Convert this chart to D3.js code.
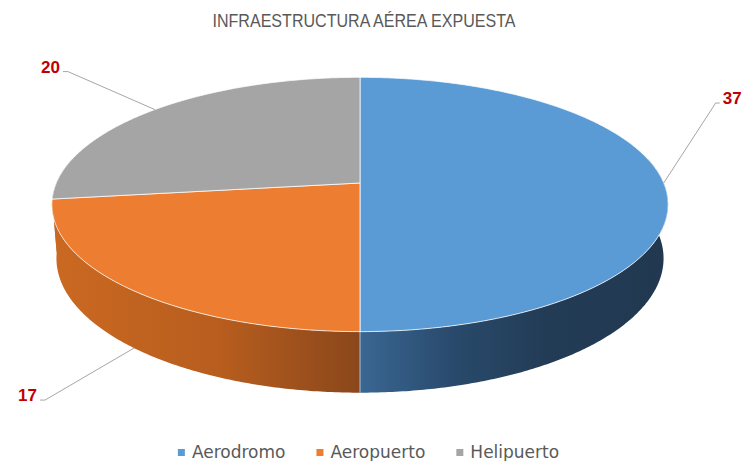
<!DOCTYPE html>
<html>
<head>
<meta charset="utf-8">
<script src="https://cdn.jsdelivr.net/npm/d3@7"></script>
<style>
  body { margin: 0; background: #fff; }
</style>
</head>
<body>
<svg id="chart"></svg>
<script>
// Data
const title = 'INFRAESTRUCTURA AÉREA EXPUESTA';
const categories = ['Aerodromo', 'Aeropuerto', 'Helipuerto'];
const values = [37, 17, 20];

// Styles / layout
const topColors = ['#5B9BD5', '#ED7D31', '#A5A5A5'];
const sideStops = [
    [['0', '#3A6793'], ['0.3', '#294A6C'], ['0.6', '#233C56'], ['1', '#213850']],
    [['0', '#CB6922'], ['0.55', '#B75D1E'], ['1', '#8A471B']],
    [['0', '#8E8E8E'], ['1', '#7A7A7A']]
];
// offset of the label elbow from the point where the leader touches the slice
const labelOffsets = [[52, -80], [-89, 52], [-87, -38]];

const width = 743;
const height = 461;

// Perspective camera for the 3D pie
const cx = 360, cy = 183;
const tilt = 24 * Math.PI / 180;
const sinT = Math.sin(tilt), cosT = Math.cos(tilt);
const dist = 5.41;
const k = 1643;
const depth = 0.194;

function proj(a, h) {
    const u = Math.sin(a), v = Math.cos(a);
    const den = v * cosT + dist - h * sinT;
    return [cx + k * u / den, cy - k * (v * sinT + h * cosT) / den];
}

function arcPoints(a0, a1, h) {
    const n = Math.max(2, Math.ceil(Math.abs(a1 - a0) / 0.01));
    return d3.range(n + 1).map(i => proj(a0 + (a1 - a0) * i / n, h));
}

const svg = d3.select('#chart')
    .attr('width', width)
    .attr('height', height);

const defs = svg.append('defs');

const pie = d3.pie().sort(null).value(d => d)
    .startAngle(0).endAngle(2 * Math.PI);
const slices = pie(values);

const line = d3.line();

// Side walls (only the front half is visible), drawn back to front
const visLo = Math.PI / 2 - 0.2, visHi = 3 * Math.PI / 2 + 0.2;
const sides = slices.map((s, i) => {
    const b0 = Math.max(s.startAngle, visLo);
    const b1 = Math.min(s.endAngle, visHi);
    return { i, b0, b1 };
}).filter(d => d.b1 > d.b0)
  .sort((a, b) => Math.cos((b.b0 + b.b1) / 2) - Math.cos((a.b0 + a.b1) / 2));

sides.forEach(({ i, b0, b1 }) => {
    const xs = arcPoints(b0, b1, 0).map(p => p[0]);
    const grad = defs.append('linearGradient')
        .attr('id', 'side' + i)
        .attr('gradientUnits', 'userSpaceOnUse')
        .attr('x1', d3.min(xs)).attr('y1', 0)
        .attr('x2', d3.max(xs)).attr('y2', 0);
    grad.selectAll('stop')
        .data(sideStops[i])
        .join('stop')
        .attr('offset', d => d[0])
        .attr('stop-color', d => d[1]);

    const pts = arcPoints(b0, b1, 0).concat(arcPoints(b1, b0, -depth));
    svg.append('path')
        .attr('d', line(pts) + 'Z')
        .attr('fill', `url(#side${i})`);
});

// light seam on the side at slice boundaries in front
slices.forEach(s => {
    const a = s.startAngle;
    if (a > Math.PI / 2 && a < 3 * Math.PI / 2 - 0.2) {
        svg.append('path')
            .attr('d', line([proj(a, 0), proj(a, -depth)]))
            .attr('stroke', '#ffffff')
            .attr('stroke-opacity', 0.6)
            .attr('stroke-width', 1);
    }
});

// Top faces
slices.forEach((s, i) => {
    const pts = [[cx, cy]].concat(arcPoints(s.startAngle, s.endAngle, 0));
    svg.append('path')
        .attr('d', line(pts) + 'Z')
        .attr('fill', topColors[i])
        .attr('stroke', '#ffffff')
        .attr('stroke-opacity', 0.75)
        .attr('stroke-width', 1)
        .attr('stroke-linejoin', 'round');
});

// Data labels with leader lines
slices.forEach((s, i) => {
    const mid = (s.startAngle + s.endAngle) / 2;
    const onSide = Math.cos(mid) < -0.1;
    const anchor = proj(mid, onSide ? -depth : 0);
    const elbow = [anchor[0] + labelOffsets[i][0], anchor[1] + labelOffsets[i][1]];
    const right = labelOffsets[i][0] > 0;
    const tail = [elbow[0] + (right ? 4 : -5), elbow[1]];

    svg.append('path')
        .attr('d', line([anchor, elbow, tail]))
        .attr('fill', 'none')
        .attr('stroke', '#A6A6A6')
        .attr('stroke-width', 1);

    svg.append('text')
        .attr('x', tail[0] + (right ? 3 : -3))
        .attr('y', elbow[1] + 1)
        .attr('text-anchor', right ? 'start' : 'end')
        .attr('font-family', 'Liberation Sans, Arial, sans-serif')
        .attr('font-weight', 'bold')
        .attr('font-size', 17)
        .attr('fill', '#C00000')
        .text(values[i]);
});

// Title
svg.append('text')
    .attr('x', 364)
    .attr('y', 27)
    .attr('text-anchor', 'middle')
    .attr('font-family', 'Liberation Sans, Arial, sans-serif')
    .attr('font-size', 18)
    .attr('fill', '#595959')
    .attr('textLength', 303)
    .attr('lengthAdjust', 'spacingAndGlyphs')
    .text(title);

// Legend
const legend = svg.append('g');
let lx = 0;
categories.forEach((c, i) => {
    const g = legend.append('g').attr('transform', `translate(${lx},0)`);
    g.append('rect')
        .attr('x', 0).attr('y', -9)
        .attr('width', 7).attr('height', 7)
        .attr('fill', topColors[i]);
    const t = g.append('text')
        .attr('x', 14).attr('y', 0)
        .attr('font-family', 'DejaVu Sans, sans-serif')
        .attr('font-size', 17)
        .attr('fill', '#595959')
        .text(c);
    lx += 14 + t.node().getComputedTextLength() + 31;
});
const legendW = lx - 31;
legend.attr('transform', `translate(${368.5 - legendW / 2},458)`);
</script>
</body>
</html>
